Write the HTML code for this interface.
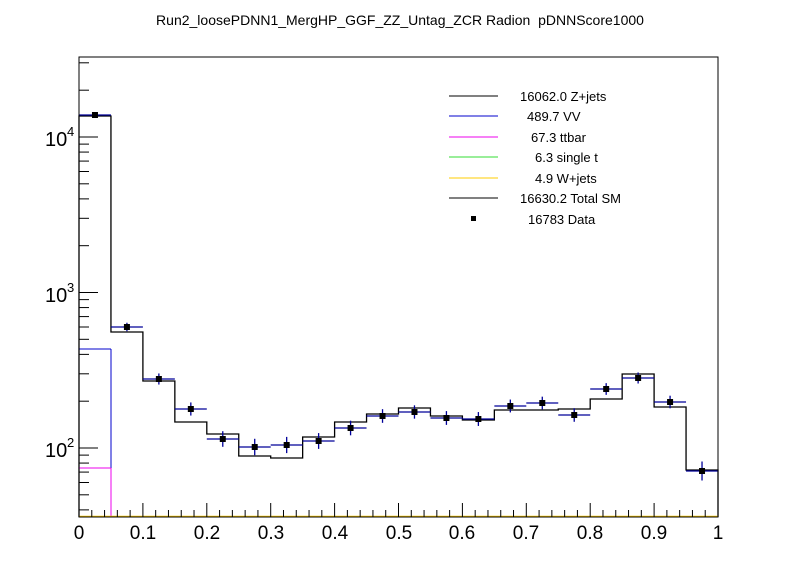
<!DOCTYPE html>
<html><head><meta charset="utf-8"><style>
body{margin:0;background:#fff;}
svg{display:block;font-family:"Liberation Sans",sans-serif;}
</style></head><body>
<svg id="s" width="798" height="575" xmlns="http://www.w3.org/2000/svg">
<rect width="798" height="575" fill="#fff"/>
<text x="400" y="25" font-size="14" text-anchor="middle">Run2_loosePDNN1_MergHP_GGF_ZZ_Untag_ZCR Radion&#160; pDNNScore1000</text>
<g id="g"></g>
<rect x="79" y="57" width="639" height="460" fill="none" stroke="#000" stroke-width="1"/>
<g font-size="19" text-anchor="middle">
<text x="79" y="539">0</text><text x="143" y="539">0.1</text><text x="207" y="539">0.2</text><text x="271" y="539">0.3</text><text x="335" y="539">0.4</text><text x="399" y="539">0.5</text><text x="462" y="539">0.6</text><text x="526" y="539">0.7</text><text x="590" y="539">0.8</text><text x="654" y="539">0.9</text><text x="718" y="539">1</text>
</g>
<g font-size="20">
<text x="45" y="146">10</text><text x="67" y="136" font-size="13">4</text>
<text x="45" y="302">10</text><text x="67" y="292" font-size="13">3</text>
<text x="45" y="457">10</text><text x="67" y="447" font-size="13">2</text>
</g>
<g font-size="13">
<line x1="449" y1="96" x2="498" y2="96" stroke="#000"/><text x="520" y="101">16062.0 Z+jets</text>
<line x1="449" y1="116" x2="498" y2="116" stroke="#0000cc"/><text x="527" y="121">489.7 VV</text>
<line x1="449" y1="137" x2="498" y2="137" stroke="#ee00ee"/><text x="531" y="142">67.3 ttbar</text>
<line x1="449" y1="157" x2="498" y2="157" stroke="#33dd33"/><text x="535" y="162">6.3 single t</text>
<line x1="449" y1="178" x2="498" y2="178" stroke="#ffcc00"/><text x="535" y="183">4.9 W+jets</text>
<line x1="449" y1="198" x2="498" y2="198" stroke="#000"/><text x="520" y="203">16630.2 Total SM</text>
<rect x="471" y="216" width="5" height="5" fill="#000"/><text x="528" y="224">16783 Data</text>
</g>
</svg>
<script>
var g=document.getElementById('g'),h='';
function L(a,b,c,d,col,w){h+='<line x1="'+a+'" y1="'+b+'" x2="'+c+'" y2="'+d+'" stroke="'+col+'" stroke-width="'+(w||1)+'"/>';}
var x0=79,bw=31.95;
var tot=[116,332,381,422,434,456,458,437,422,414,408,416,420,410,410,409,399,374,407,470];
var dat=[115,327,379,409,439,447,445,441,428,416,412,418,419,406,403,415,389,378,402,471];
var p='M'+x0+',517';
for(var i=0;i<20;i++){var a=x0+i*bw,b=a+bw;p+=' L'+a+','+tot[i]+' L'+b+','+tot[i];}
p+=' L718,517';
h+='<path d="'+p+'" fill="none" stroke="#000" stroke-width="1.3"/>';
L(x0,349,111,349,'#0000cc');L(111,349,111,468,'#0000cc');
L(x0,468,111,468,'#ee00ee');L(111,468,111,517,'#ee00ee');
L(x0,516.5,718,516.5,'#ffcc00',1.5);
for(var i=0;i<20;i++){var a=x0+i*bw,c=a+bw/2,y=dat[i];
 var N=Math.pow(10,2+(448-y)/155.5),e=67.5/Math.sqrt(N)+0.5;
 L(a,y,a+bw,y,'#000099',1.3);L(c,y-e-1,c,y+e+1,'#000099',1.3);
 h+='<rect x="'+(c-3)+'" y="'+(y-3)+'" width="6" height="6" fill="#000"/>';}
for(var d=1;d<=4;d++)for(var k=1;k<10;k++){var y=448-155.5*(Math.log10(k*Math.pow(10,d))-2);
 if(y<57||y>517)continue;L(79,y,k==1?98:89,y,'#000');}
for(var j=0;j<=50;j++){var x=x0+j*639/50;L(x,517,x,j%5==0?503:510,'#000');}
g.innerHTML=h;
</script>
</body></html>
